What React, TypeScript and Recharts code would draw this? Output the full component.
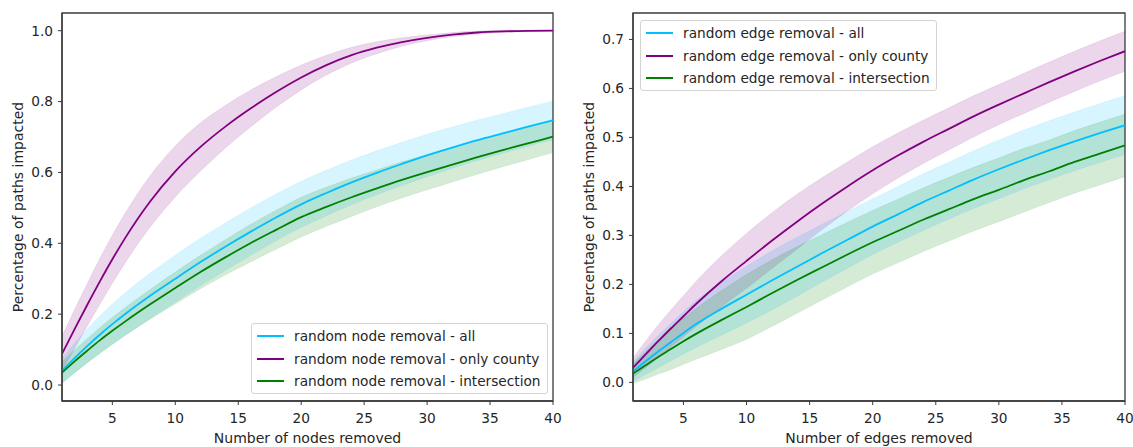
import {
  ComposedChart, Line, Area, XAxis, YAxis, Legend, ReferenceArea,
} from 'recharts'

// sample positions (number removed)
const xs = [1, 2, 3, 4, 5, 6, 8, 10, 12, 14, 16, 18, 20, 22, 24, 26, 28, 30, 32, 34, 36, 38, 40]

// left panel: random node removal
const nodeAll = [0.04, 0.076, 0.11, 0.142, 0.172, 0.2, 0.252, 0.3, 0.347, 0.391, 0.433, 0.473, 0.51, 0.542, 0.572, 0.599, 0.624, 0.648, 0.67, 0.691, 0.71, 0.729, 0.747]
const nodeAllSpread = [0.035, 0.042, 0.048, 0.053, 0.057, 0.06, 0.064, 0.066, 0.067, 0.067, 0.067, 0.066, 0.065, 0.064, 0.063, 0.062, 0.061, 0.06, 0.058, 0.057, 0.056, 0.055, 0.055]
const nodeCounty = [0.088, 0.158, 0.226, 0.292, 0.355, 0.414, 0.518, 0.603, 0.672, 0.73, 0.781, 0.827, 0.868, 0.903, 0.931, 0.952, 0.968, 0.98, 0.989, 0.995, 0.998, 0.9995, 1.0]
const nodeCountySpread = [0.05, 0.055, 0.06, 0.065, 0.068, 0.07, 0.073, 0.072, 0.068, 0.06, 0.052, 0.043, 0.035, 0.028, 0.022, 0.017, 0.012, 0.008, 0.006, 0.004, 0.003, 0.002, 0.001]
const nodeInter = [0.035, 0.067, 0.097, 0.126, 0.153, 0.179, 0.228, 0.274, 0.319, 0.361, 0.401, 0.438, 0.474, 0.503, 0.53, 0.555, 0.579, 0.601, 0.622, 0.643, 0.663, 0.682, 0.701]
const nodeInterSpread = [0.03, 0.032, 0.034, 0.036, 0.038, 0.039, 0.042, 0.045, 0.047, 0.05, 0.053, 0.055, 0.056, 0.055, 0.054, 0.052, 0.051, 0.05, 0.049, 0.048, 0.047, 0.046, 0.045]

// right panel: random edge removal
const edgeAll = [0.022, 0.043, 0.063, 0.082, 0.101, 0.119, 0.15, 0.179, 0.208, 0.236, 0.264, 0.291, 0.318, 0.343, 0.368, 0.391, 0.414, 0.435, 0.455, 0.474, 0.492, 0.509, 0.525]
const edgeAllSpread = [0.02, 0.027, 0.033, 0.038, 0.043, 0.048, 0.054, 0.058, 0.06, 0.06, 0.059, 0.058, 0.057, 0.057, 0.058, 0.058, 0.059, 0.06, 0.06, 0.06, 0.06, 0.06, 0.06]
const edgeCounty = [0.03, 0.057, 0.084, 0.11, 0.135, 0.16, 0.206, 0.248, 0.289, 0.328, 0.365, 0.4, 0.433, 0.463, 0.491, 0.517, 0.543, 0.567, 0.59, 0.613, 0.635, 0.656, 0.676]
const edgeCountySpread = [0.02, 0.027, 0.033, 0.038, 0.042, 0.046, 0.052, 0.056, 0.057, 0.056, 0.053, 0.05, 0.048, 0.046, 0.044, 0.043, 0.042, 0.041, 0.041, 0.041, 0.041, 0.041, 0.041]
const edgeInter = [0.018, 0.035, 0.052, 0.068, 0.084, 0.099, 0.127, 0.154, 0.182, 0.209, 0.235, 0.261, 0.286, 0.309, 0.332, 0.353, 0.374, 0.393, 0.413, 0.431, 0.45, 0.467, 0.484]
const edgeInterSpread = [0.02, 0.028, 0.035, 0.042, 0.047, 0.052, 0.06, 0.066, 0.068, 0.068, 0.067, 0.066, 0.065, 0.065, 0.065, 0.065, 0.065, 0.065, 0.065, 0.064, 0.064, 0.064, 0.064]

const xTicks = [5, 10, 15, 20, 25, 30, 35, 40]
const nodeYTicks = [0, 0.2, 0.4, 0.6, 0.8, 1.0]
const edgeYTicks = [0, 0.1, 0.2, 0.3, 0.4, 0.5, 0.6, 0.7]

const CYAN = '#00bfff'
const PURPLE = '#800080'
const GREEN = '#008000'
const TEXT = '#262626'
const SPINE = '#3a3a3a'
const FONT = 'DejaVu Sans, sans-serif'

// legend order as in the figure
const LINE_KEYS = ['all', 'county', 'inter']

function buildRows(all: number[], allS: number[], county: number[], countyS: number[], inter: number[], interS: number[]) {
  return xs.map((x, i) => ({
    x,
    all: all[i],
    allBand: [all[i] - allS[i], all[i] + allS[i]],
    county: county[i],
    countyBand: [county[i] - countyS[i], county[i] + countyS[i]],
    inter: inter[i],
    interBand: [inter[i] - interS[i], inter[i] + interS[i]],
  }))
}

const nodeRows = buildRows(nodeAll, nodeAllSpread, nodeCounty, nodeCountySpread, nodeInter, nodeInterSpread)
const edgeRows = buildRows(edgeAll, edgeAllSpread, edgeCounty, edgeCountySpread, edgeInter, edgeInterSpread)

interface LegendEntry {
  value: string
  color: string
  dataKey?: unknown
}

function MplLegend({ payload }: { payload?: LegendEntry[] }) {
  if (!payload?.length) return null
  const items = payload
    .filter((e) => LINE_KEYS.includes(String(e.dataKey)))
    .sort((a, b) => LINE_KEYS.indexOf(String(a.dataKey)) - LINE_KEYS.indexOf(String(b.dataKey)))
  return (
    <div style={{
      border: '1px solid #d4d4d4', borderRadius: 3, background: 'rgba(255,255,255,0.85)',
      padding: '1px 6px 1px 5px', fontSize: 13.7, color: TEXT, fontFamily: FONT, whiteSpace: 'nowrap',
    }}>
      {items.map((e) => (
        <div key={e.value} style={{ display: 'flex', alignItems: 'center', height: 22.4 }}>
          <span style={{ display: 'inline-block', width: 27, borderTop: `2px solid ${e.color}`, marginRight: 10 }} />
          <span>{e.value}</span>
        </div>
      ))}
    </div>
  )
}

interface PanelProps {
  rows: ReturnType<typeof buildRows>
  width: number
  yWidth: number
  rightMargin: number
  yDomain: [number, number]
  yTicks: number[]
  xLabel: string
  prefix: string
  legendPos: { left: number; top: number }
  yLabelX: number
}

function Panel({ rows, width, yWidth, rightMargin, yDomain, yTicks, xLabel, prefix, legendPos, yLabelX }: PanelProps) {
  const tickStyle = { fontSize: 13.7, fill: TEXT, fontFamily: FONT }
  return (
    <ComposedChart width={width} height={447} data={rows} margin={{ top: 13, right: rightMargin, left: 0, bottom: 0 }}>
      <XAxis
        dataKey="x"
        type="number"
        domain={[1, 40]}
        ticks={xTicks}
        allowDataOverflow
        height={46}
        tick={tickStyle}
        tickSize={4}
        tickMargin={8}
        tickLine={{ stroke: SPINE }}
        axisLine={{ stroke: SPINE, strokeWidth: 1.3 }}
        label={{ value: xLabel, position: 'insideBottom', offset: 4, fontSize: 14, fill: TEXT, fontFamily: FONT }}
      />
      <YAxis
        type="number"
        domain={yDomain}
        ticks={yTicks}
        allowDataOverflow
        width={yWidth}
        tick={tickStyle}
        tickSize={4}
        tickMargin={5}
        tickFormatter={(v: number) => v.toFixed(1)}
        tickLine={{ stroke: SPINE }}
        axisLine={{ stroke: SPINE, strokeWidth: 1.3 }}
        label={{
          value: 'Percentage of paths impacted', angle: -90, position: 'insideLeft', offset: yLabelX,
          fontSize: 14, fill: TEXT, fontFamily: FONT, style: { textAnchor: 'middle' },
        }}
      />

      {/* shaded spread bands */}
      <Area type="monotone" dataKey="allBand" fill={CYAN} fillOpacity={0.16} stroke={CYAN} strokeOpacity={0.08} legendType="none" isAnimationActive={false} />
      <Area type="monotone" dataKey="countyBand" fill={PURPLE} fillOpacity={0.16} stroke={PURPLE} strokeOpacity={0.08} legendType="none" isAnimationActive={false} />
      <Area type="monotone" dataKey="interBand" fill={GREEN} fillOpacity={0.16} stroke={GREEN} strokeOpacity={0.08} legendType="none" isAnimationActive={false} />

      <Line type="monotone" dataKey="all" name={`${prefix} - all`} stroke={CYAN} strokeWidth={1.8} dot={false} isAnimationActive={false} />
      <Line type="monotone" dataKey="county" name={`${prefix} - only county`} stroke={PURPLE} strokeWidth={1.8} dot={false} isAnimationActive={false} />
      <Line type="monotone" dataKey="inter" name={`${prefix} - intersection`} stroke={GREEN} strokeWidth={1.8} dot={false} isAnimationActive={false} />

      {/* axes frame */}
      <ReferenceArea x1={1} x2={40} y1={yDomain[0]} y2={yDomain[1]} fill="none" stroke={SPINE} strokeWidth={1.3} />

      <Legend
        layout="vertical"
        align="center"
        verticalAlign="middle"
        wrapperStyle={{ left: legendPos.left, top: legendPos.top, width: 'auto' }}
        content={(props: any) => <MplLegend payload={props.payload} />}
      />
    </ComposedChart>
  )
}

export default function App() {
  return (
    <div style={{ position: 'absolute', left: 0, top: 0, width: 1133, height: 447, background: '#fff', fontFamily: FONT }}>
      <div style={{ position: 'absolute', left: 0, top: 0 }}>
        <Panel
          rows={nodeRows}
          width={566}
          yWidth={62}
          rightMargin={13}
          yDomain={[-0.045, 1.05]}
          yTicks={nodeYTicks}
          xLabel="Number of nodes removed"
          prefix="random node removal"
          legendPos={{ left: 251, top: 323 }}
          yLabelX={18}
        />
      </div>
      <div style={{ position: 'absolute', left: 566, top: 0 }}>
        <Panel
          rows={edgeRows}
          width={567}
          yWidth={67}
          rightMargin={8}
          yDomain={[-0.038, 0.754]}
          yTicks={edgeYTicks}
          xLabel="Number of edges removed"
          prefix="random edge removal"
          legendPos={{ left: 74, top: 20 }}
          yLabelX={23}
        />
      </div>
    </div>
  )
}
